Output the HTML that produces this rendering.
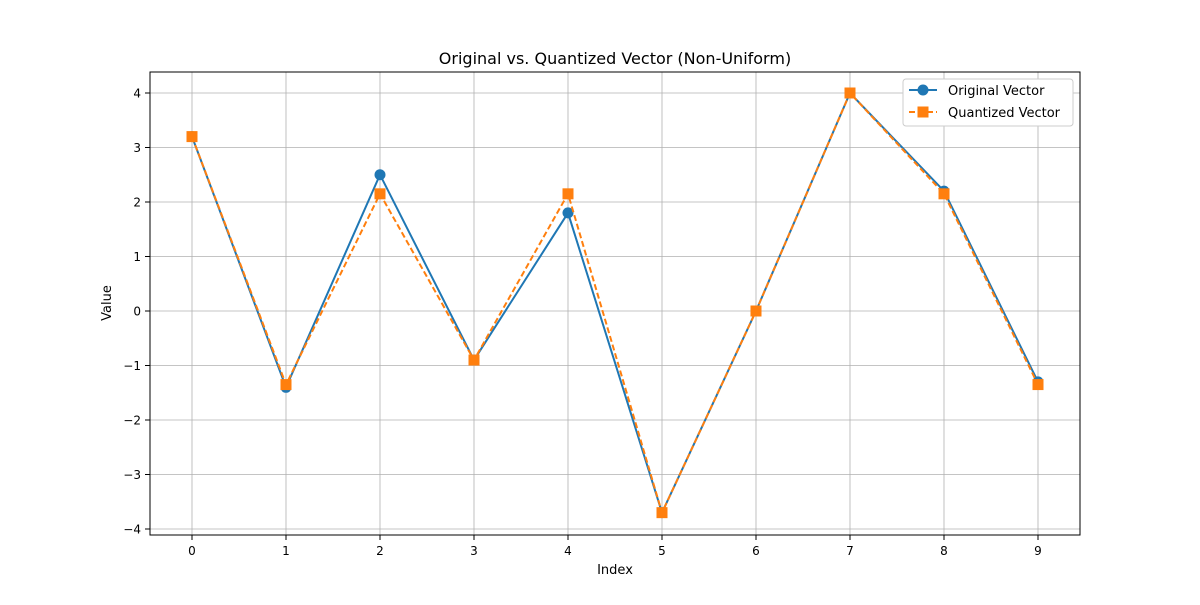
<!DOCTYPE html>
<html><head><meta charset="utf-8"><style>
body{margin:0;background:#fff;font-family:"Liberation Sans","DejaVu Sans",sans-serif}
svg text{font-family:"DejaVu Sans","Liberation Sans",sans-serif}
</style></head><body>
<svg id="chart" width="1200" height="600" xmlns="http://www.w3.org/2000/svg">
<rect width="1200" height="600" fill="#fff"/>
<text x="615" y="64" font-size="16" text-anchor="middle">Original vs. Quantized Vector (Non-Uniform)</text>
<g id="grid"></g>
<g id="series"></g>
<rect x="150" y="72" width="930" height="463" fill="none" stroke="#000" stroke-width="1"/>
<text x="615" y="574" font-size="13" text-anchor="middle">Index</text>
<text transform="translate(111,303) rotate(-90)" font-size="13" text-anchor="middle">Value</text>
<g>
<rect x="903" y="79" width="170" height="47" fill="#fff" stroke="#ccc" rx="3"/>
<line x1="909" y1="90" x2="937" y2="90" stroke="#1f77b4" stroke-width="2"/>
<circle cx="923" cy="90" r="5.5" fill="#1f77b4"/>
<text x="948" y="95" font-size="13">Original Vector</text>
<line x1="909" y1="112" x2="937" y2="112" stroke="#ff7f0e" stroke-width="2" stroke-dasharray="6,3"/>
<rect x="917.5" y="106.5" width="11" height="11" fill="#ff7f0e"/>
<text x="948" y="117" font-size="13">Quantized Vector</text>
</g>
</svg>
<script>
const indices=[0,1,2,3,4,5,6,7,8,9];
const original=[3.2,-1.4,2.5,-0.9,1.8,-3.7,0.0,4.0,2.2,-1.3];
const quantized=[3.2,-1.35,2.15,-0.9,2.15,-3.7,0.0,4.0,2.15,-1.35];
const yTicks=[-4,-3,-2,-1,0,1,2,3,4];
const NS="http://www.w3.org/2000/svg";
const x=i=>192+i*94;
const y=v=>311-v*54.5;
function mk(t,a,p){const e=document.createElementNS(NS,t);for(const k in a)e.setAttribute(k,a[k]);p.appendChild(e);return e;}
const g=document.getElementById('grid'),s=document.getElementById('series');
indices.forEach(i=>{
 const l=mk('line',{x1:x(i),x2:x(i),y1:72,y2:535,stroke:'#b0b0b0','stroke-width':0.8},g);
 
 
 mk('line',{x1:x(i),x2:x(i),y1:535,y2:540,stroke:'#000'},g);
 const t=mk('text',{x:x(i),y:555,'font-size':12,'text-anchor':'middle'},g);t.textContent=i;
 
 
});
yTicks.forEach(v=>{
 const l=mk('line',{x1:150,x2:1080,y1:y(v),y2:y(v),stroke:'#b0b0b0','stroke-width':0.8},g);
 
 
 mk('line',{x1:145,x2:150,y1:y(v),y2:y(v),stroke:'#000'},g);
 const t=mk('text',{x:141,y:y(v)+4.5,'font-size':12,'text-anchor':'end'},g);t.textContent=v<0?'\u2212'+(-v):v;
 
 
});
const p1=mk('polyline',{points:original.map((v,i)=>x(indices[i])+','+y(v)).join(' '),fill:'none',stroke:'#1f77b4','stroke-width':2},s);


original.forEach((v,i)=>{const c=mk('circle',{cx:x(indices[i]),cy:y(v),r:5.5,fill:'#1f77b4'},s);
 
 });
const p2=mk('polyline',{points:quantized.map((v,i)=>x(indices[i])+','+y(v)).join(' '),fill:'none',stroke:'#ff7f0e','stroke-width':2,'stroke-dasharray':'6,3'},s);


quantized.forEach((v,i)=>{const r=mk('rect',{x:x(indices[i])-5.5,y:y(v)-5.5,width:11,height:11,fill:'#ff7f0e'},s);
 
 });
</script>
</body></html>
